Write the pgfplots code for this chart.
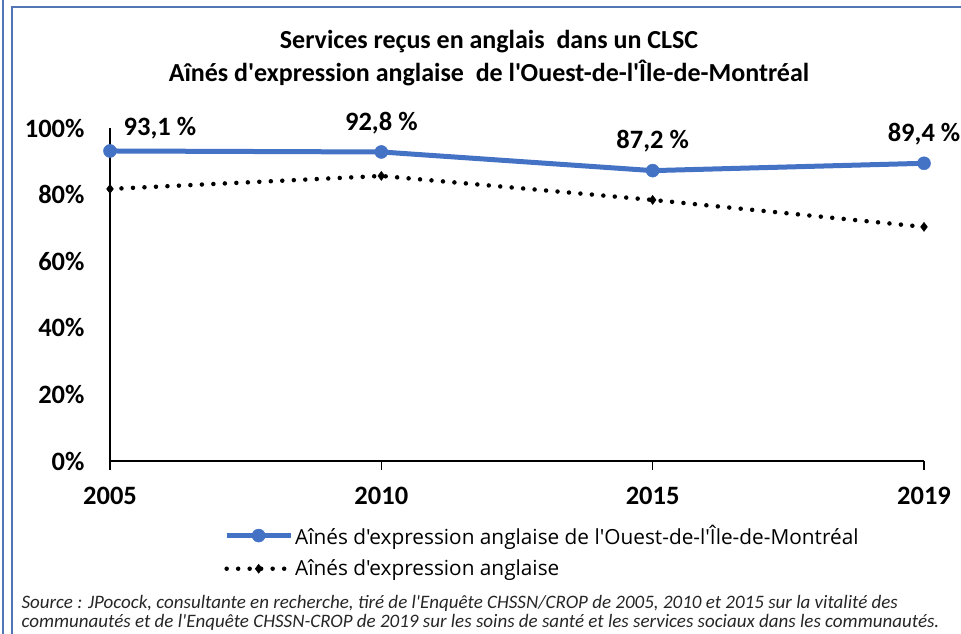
\documentclass[border=0pt]{standalone}
\usepackage{pgfplots}
\pgfplotsset{compat=1.18}
\usepackage{fontspec}
\setmainfont{Carlito}[Ligatures=TeXOff]
\newfontfamily\legfont{Open Sans}[Ligatures=TeXOff]
\definecolor{serblue}{HTML}{4472C4}
\definecolor{frameblue}{HTML}{5275B5}

\begin{document}
\begin{tikzpicture}[x=1pt,y=1pt]
\path[use as bounding box] (0,0) rectangle (961,634);
% cadre
\draw[frameblue, line width=1.5pt] (3,0) -- (3,634);
\draw[frameblue, line width=1.5pt] (12,0) -- (12,627) -- (961,627);

% titre
\node[font=\fontsize{26}{30}\selectfont\bfseries] at (489,592) {Services reçus en anglais\ \ dans un CLSC};
\node[font=\fontsize{26}{30}\selectfont\bfseries] at (489,561) {Aînés d'expression anglaise\ \ de l'Ouest-de-l'Île-de-Montréal};

\begin{axis}[
    at={(110pt,173pt)}, anchor=south west,
    scale only axis, width=814pt, height=333pt,
    xmin=0, xmax=3, ymin=0, ymax=100,
    axis x line=bottom, axis y line=left,
    axis line style={-, line width=1.2pt},
    xtick={0,1,2,3}, xticklabels={2005,2010,2015,2019},
    ytick={0,20,40,60,80,100},
    yticklabel={\pgfmathprintnumber{\tick}\%},
    tick align=outside, major tick length=9pt,
    xtick style={draw=black, line width=1.2pt},
    ytick style={draw=none},
    ticklabel style={font=\fontsize{26.5}{30}\selectfont\bfseries},
    xticklabel style={yshift=-14pt},
    yticklabel style={xshift=-13pt},
    /pgf/number format/assume math mode=true,
    clip=false,
    legend style={at={(axis description cs:0.14,-0.186)}, anchor=north west,
        draw=none, fill=none, inner sep=0pt, row sep=10pt,
        font=\legfont\fontsize{20.8}{24}\selectfont},
    legend cell align=left,
    legend image code/.code={\draw[mark repeat=2,mark phase=2,#1] plot coordinates {(0pt,0pt) (32pt,0pt) (64pt,0pt)};},
]
\addplot[serblue, line width=5pt, mark=*, mark size=6.5pt, mark options={solid, line width=0.5pt, fill=serblue}]
    coordinates {(0,93.1) (1,92.8) (2,87.2) (3,89.4)};
\addlegendentry{Aînés d'expression anglaise de l'Ouest-de-l'Île-de-Montréal}
\addplot[black, line width=4.5pt, line cap=round, dash pattern=on 0pt off 11.5pt,
    mark=diamond*, mark size=4.5pt, mark options={solid, line width=0.5pt, fill=black}]
    coordinates {(0,81.7) (1,85.6) (2,78.4) (3,70.3)};
\addlegendentry{Aînés d'expression anglaise}

\node[font=\fontsize{26.5}{30}\selectfont\bfseries] at (axis cs:0.184,100) {93,1 \%};
\node[font=\fontsize{26.5}{30}\selectfont\bfseries] at (axis cs:1,101.5) {92,8 \%};
\node[font=\fontsize{26.5}{30}\selectfont\bfseries] at (axis cs:2,96.1) {87,2 \%};
\node[font=\fontsize{26.5}{30}\selectfont\bfseries] at (axis cs:3,98.2) {89,4 \%};
\end{axis}

% source
\node[anchor=west, text=black!85, font=\fontsize{19}{22}\selectfont\itshape] at (18,31)
    {Source : JPocock, consultante en recherche, tiré de l'Enquête CHSSN/CROP de 2005, 2010 et 2015 sur la vitalité des};
\node[anchor=west, text=black!85, font=\fontsize{19}{22}\selectfont\itshape] at (18,12)
    {communautés et de l'Enquête CHSSN-CROP de 2019 sur les soins de santé et les services sociaux dans les communautés.};
\end{tikzpicture}
\end{document}
